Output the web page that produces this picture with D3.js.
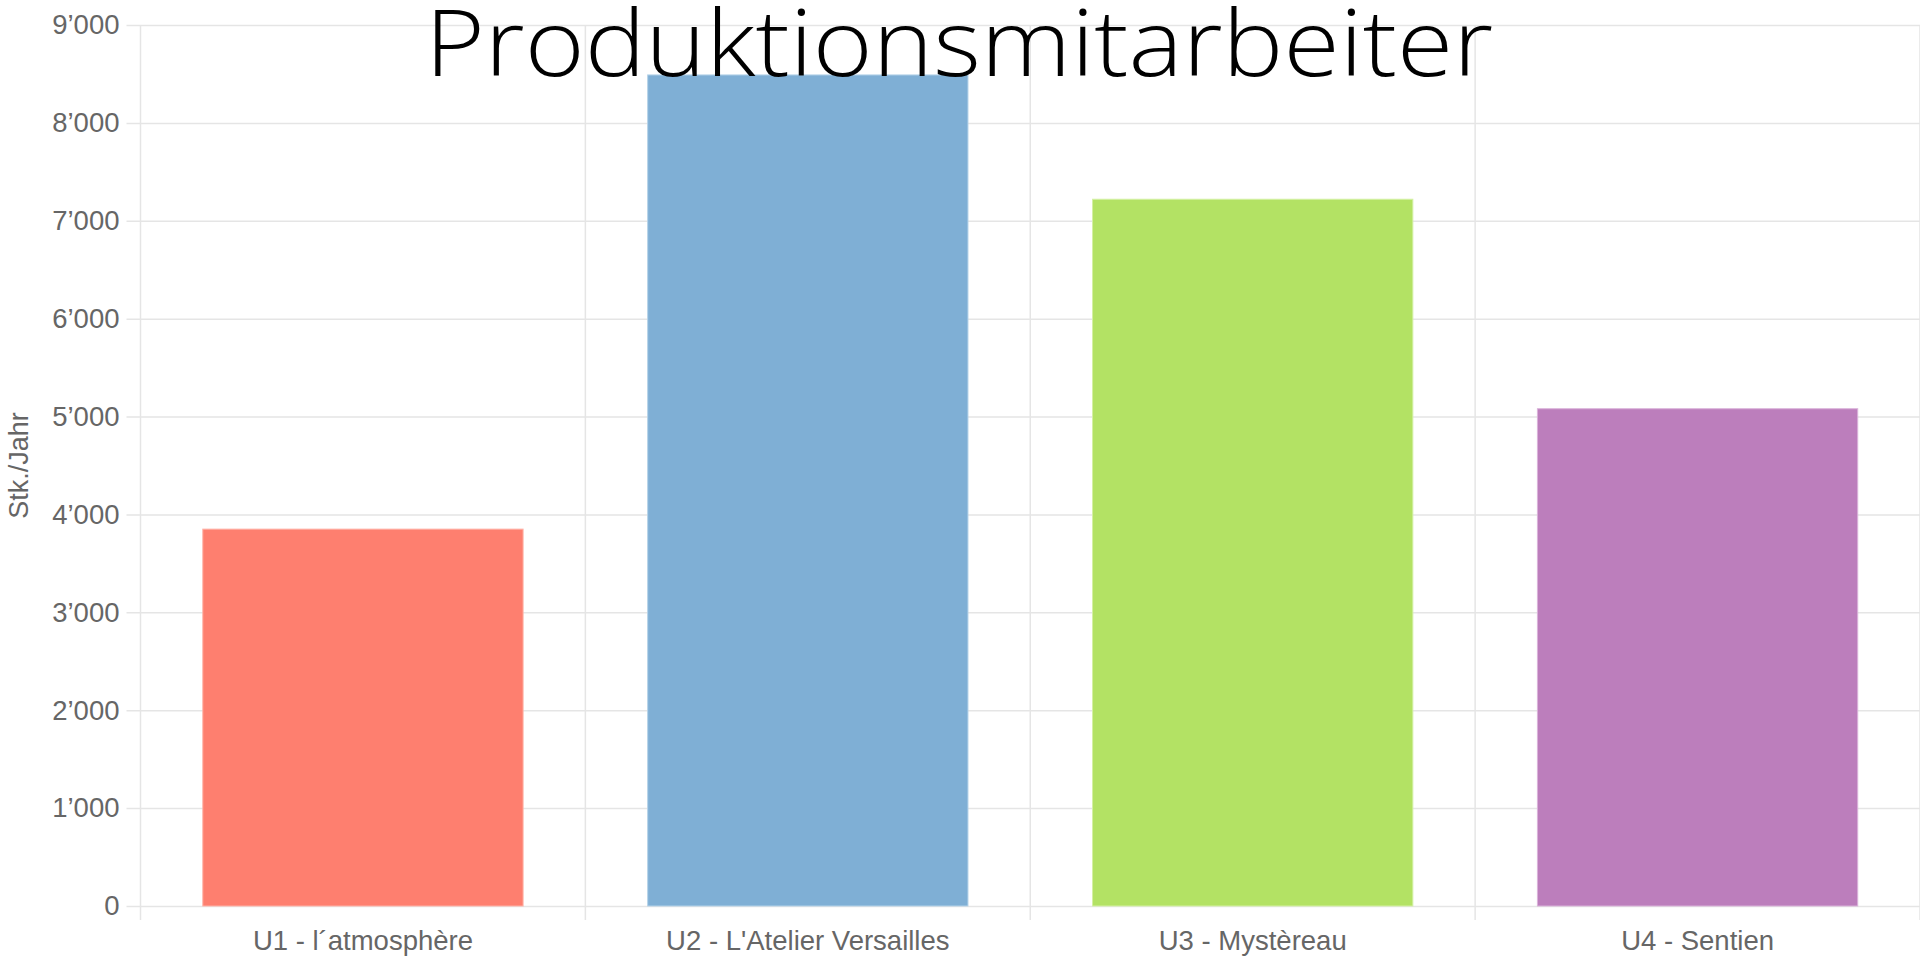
<!DOCTYPE html>
<html>
<head>
<meta charset="utf-8">
<script src="https://cdn.jsdelivr.net/npm/d3@7"></script>
<style>
html,body{margin:0;padding:0;background:#fff;overflow:hidden;}
svg{display:block;}
</style>
</head>
<body>
<script>
const categories = ["U1 - l´atmosphère", "U2 - L'Atelier Versailles", "U3 - Mystèreau", "U4 - Sentien"];
const values = [3850, 8490, 7220, 5080];
const colors = ["#FE7F6F", "#7FAFD5", "#B3E264", "#BC7EBC"];
const borderColors = ["#FFB3A8", "#B5D2E8", "#D4F0A4", "#DAB3DA"];
const yTicks = [0, 1000, 2000, 3000, 4000, 5000, 6000, 7000, 8000, 9000];
const title = "Produktionsmitarbeiter";
const yTitle = "Stk./Jahr";

const W = 1920, H = 956;
const m = {left: 140.5, right: 0, top: 25, bottom: 50};
const svg = d3.select("body").append("svg").attr("width", W).attr("height", H);

const x = d3.scaleBand().domain(categories).range([m.left, W - m.right]).paddingInner(0).paddingOuter(0);
const y = d3.scaleLinear().domain([0, 9000]).range([H - m.bottom, m.top]);

const fmt = v => d3.format(",")(v).replace(/,/g, "\u2019");
const grid = "#e5e5e5";
const font = "'Liberation Sans', Arial, sans-serif";

// horizontal grid
const yAxis = d3.axisLeft(y).tickValues(yTicks).tickFormat(fmt).tickSize(-(W - m.left - m.right)).tickSizeOuter(0).tickPadding(21);
const gy = svg.append("g").attr("transform", `translate(${m.left},0)`).call(yAxis);
gy.select(".domain").remove();
gy.selectAll(".tick line").attr("stroke", grid).attr("stroke-width", 1.5).attr("x1", -14);
gy.selectAll(".tick text").attr("fill", "#666").style("font-family", font).style("font-size", "27.5px");

// vertical grid lines between categories
const bounds = categories.map(c => x(c)).concat([x.range()[1]]);
svg.append("g").selectAll("line").data(bounds).join("line")
  .attr("x1", d => d).attr("x2", d => d)
  .attr("y1", m.top).attr("y2", H - m.bottom + 14)
  .attr("stroke", grid).attr("stroke-width", 1.5);

// x axis labels
const xAxis = d3.axisBottom(x).tickSize(0).tickPadding(24);
const gx = svg.append("g").attr("transform", `translate(0,${H - m.bottom})`).call(xAxis);
gx.select(".domain").remove();
gx.selectAll(".tick text").attr("fill", "#666").style("font-family", font).style("font-size", "27.5px");

// bars
const bw = x.bandwidth() * 0.72;
svg.append("g").selectAll("rect").data(values).join("rect")
  .attr("x", (d, i) => x(categories[i]) + (x.bandwidth() - bw) / 2)
  .attr("width", bw)
  .attr("y", d => y(d))
  .attr("height", d => y(0) - y(d))
  .attr("fill", (d, i) => colors[i])
  .attr("stroke", (d, i) => borderColors[i])
  .attr("stroke-width", 1);

// y title
svg.append("text")
  .attr("transform", `translate(28,${(m.top + H - m.bottom) / 2}) rotate(-90)`)
  .attr("text-anchor", "middle")
  .attr("fill", "#666")
  .style("font-family", font).style("font-size", "27px")
  .text(yTitle);

// title
svg.append("text")
  .attr("x", 425).attr("y", 76)
  .attr("textLength", 1068).attr("lengthAdjust", "spacingAndGlyphs")
  .attr("fill", "#000")
  .style("font-family", "'Open Sans', 'Noto Sans', sans-serif")
  .style("font-weight", 300)
  .style("font-size", "92px")
  .text(title);
</script>
</body>
</html>
